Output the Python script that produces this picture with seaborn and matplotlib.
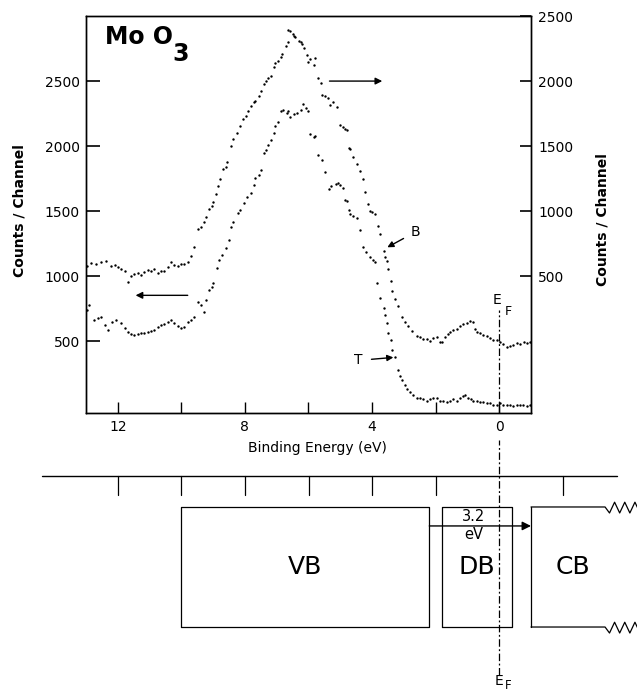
import matplotlib
matplotlib.use("Agg")
import matplotlib.pyplot as plt
import seaborn as sns

# spectrum B (upper dots, right axis)
b_energy = [12.98, 12.85, 12.69, 12.54, 12.38, 12.22, 12.10, 12.00, 11.91, 11.78,
            11.69, 11.59, 11.50, 11.37, 11.28, 11.18, 11.06, 10.96, 10.87, 10.74,
            10.65, 10.56, 10.43, 10.34, 10.24, 10.12, 10.02, 9.93, 9.80, 9.71,
            9.61, 9.49, 9.39, 9.30, 9.21, 9.14, 9.05, 8.99, 8.92, 8.86,
            8.77, 8.70, 8.61, 8.55, 8.45, 8.36, 8.26, 8.14, 8.07, 7.98,
            7.89, 7.82, 7.73, 7.67, 7.57, 7.51, 7.41, 7.35, 7.26, 7.19,
            7.10, 7.04, 6.97, 6.88, 6.82, 6.72, 6.66, 6.63, 6.57, 6.50,
            6.47, 6.41, 6.31, 6.25, 6.19, 6.13, 6.06, 6.00, 5.94, 5.84,
            5.78, 5.69, 5.62, 5.56, 5.47, 5.40, 5.31, 5.22, 5.09, 5.00,
            4.93, 4.84, 4.78, 4.74, 4.68, 4.59, 4.46, 4.37, 4.30, 4.21,
            4.12, 4.05, 3.99, 3.90, 3.80, 3.74, 3.64, 3.58, 3.52, 3.49,
            3.42, 3.36, 3.27, 3.17, 3.05, 2.95, 2.86, 2.73, 2.58, 2.48,
            2.39, 2.26, 2.17, 2.07, 1.95, 1.85, 1.79, 1.70, 1.60, 1.54,
            1.45, 1.32, 1.23, 1.13, 1.01, 0.91, 0.82, 0.75, 0.69, 0.60,
            0.50, 0.38, 0.28, 0.19, 0.06, -0.03, -0.13, -0.25, -0.35, -0.44,
            -0.57, -0.66, -0.79, -0.88, -0.97]
b_counts = [577, 600, 592, 608, 615, 577, 585, 569, 554, 539,
            454, 500, 515, 523, 508, 531, 546, 539, 554, 523,
            539, 539, 569, 608, 585, 577, 592, 592, 608, 654,
            723, 862, 877, 915, 954, 1015, 1039, 1069, 1131, 1192,
            1246, 1323, 1339, 1377, 1500, 1554, 1600, 1654, 1708, 1731,
            1769, 1808, 1838, 1846, 1885, 1923, 1977, 2000, 2023, 2038,
            2108, 2138, 2154, 2185, 2208, 2269, 2300, 2392, 2385, 2362,
            2346, 2338, 2308, 2300, 2285, 2254, 2200, 2146, 2169, 2123,
            2177, 2023, 1985, 1892, 1885, 1869, 1815, 1838, 1800, 1662,
            1646, 1631, 1623, 1485, 1477, 1415, 1362, 1308, 1246, 1146,
            1054, 1000, 992, 977, 885, 823, 692, 646, 615, 554,
            462, 385, 323, 269, 185, 146, 115, 77, 39, 31,
            15, 15, 0, 23, 31, -8, -8, 31, 54, 69,
            85, 92, 115, 131, 139, 154, 146, 92, 69, 62,
            46, 39, 23, 8, 8, -8, -23, -46, -38, -31,
            -15, -23, -8, -15, -8]

# spectrum T (lower dots, left axis)
t_energy = [12.98, 12.91, 12.76, 12.63, 12.54, 12.41, 12.32, 12.19, 12.06, 11.91,
            11.78, 11.69, 11.59, 11.50, 11.37, 11.28, 11.18, 11.06, 10.96, 10.87,
            10.74, 10.65, 10.56, 10.43, 10.34, 10.24, 10.12, 10.02, 9.93, 9.80,
            9.71, 9.61, 9.49, 9.39, 9.30, 9.21, 9.14, 9.05, 8.99, 8.89,
            8.83, 8.73, 8.61, 8.51, 8.45, 8.36, 8.23, 8.14, 8.04, 7.92,
            7.82, 7.73, 7.67, 7.57, 7.51, 7.41, 7.35, 7.26, 7.19, 7.10,
            7.04, 6.97, 6.88, 6.79, 6.69, 6.63, 6.57, 6.47, 6.35, 6.25,
            6.16, 6.09, 6.03, 5.94, 5.84, 5.78, 5.69, 5.59, 5.47, 5.37,
            5.28, 5.15, 5.06, 5.00, 4.90, 4.84, 4.78, 4.74, 4.68, 4.59,
            4.46, 4.37, 4.27, 4.18, 4.05, 3.96, 3.90, 3.83, 3.74, 3.64,
            3.58, 3.52, 3.49, 3.42, 3.36, 3.27, 3.17, 3.11, 3.05, 2.95,
            2.89, 2.80, 2.70, 2.58, 2.48, 2.39, 2.26, 2.17, 2.07, 1.95,
            1.85, 1.76, 1.63, 1.54, 1.45, 1.32, 1.23, 1.13, 1.07, 0.97,
            0.88, 0.82, 0.69, 0.60, 0.50, 0.38, 0.28, 0.19, 0.06, -0.03,
            -0.13, -0.25, -0.35, -0.44, -0.57, -0.66, -0.75, -0.88, -0.97]
t_counts = [739, 777, 662, 677, 685, 623, 585, 646, 662, 639,
            600, 569, 554, 546, 554, 562, 562, 569, 577, 585,
            608, 623, 631, 646, 662, 639, 615, 600, 608, 646,
            662, 685, 800, 777, 723, 815, 892, 915, 946, 1062,
            1123, 1162, 1215, 1277, 1377, 1415, 1485, 1508, 1562, 1608,
            1638, 1700, 1754, 1777, 1815, 1946, 1969, 2008, 2046, 2100,
            2154, 2185, 2269, 2277, 2254, 2269, 2223, 2246, 2254, 2277,
            2323, 2292, 2269, 2092, 2069, 2077, 1931, 1892, 1800, 1669,
            1692, 1708, 1715, 1700, 1677, 1585, 1577, 1508, 1477, 1462,
            1446, 1354, 1223, 1185, 1146, 1123, 1108, 946, 831, 754,
            700, 639, 562, 508, 431, 377, 277, 238, 200, 162,
            138, 108, 92, 69, 62, 54, 46, 54, 62, 62,
            46, 39, 31, 46, 54, 46, 62, 77, 85, 69,
            54, 46, 39, 31, 31, 23, 23, 15, 15, 23,
            8, 8, 8, 0, 15, 8, 8, 0, 8]

x_ticks = [12, 10, 8, 6, 4, 2, 0]
x_ticklabels = ["12", "", "8", "", "4", "", "0"]
y_ticks = [500, 1000, 1500, 2000, 2500]

# band diagram (eV)
vb_edges = [10.0, 2.2]
db_edges = [1.8, -0.4]
cb_edge = -1.0
gap_label = ["3.2", "eV"]
diag_ticks = [12, 10, 8, 6, 4, 2, -2]

sns.set_style("ticks", {"axes.edgecolor": "black", "xtick.color": "black",
                        "ytick.color": "black", "text.color": "black",
                        "axes.labelcolor": "black"})
plt.rcParams["font.family"] = ["DejaVu Sans"]

W, H = 637, 694
fig = plt.figure(figsize=(W / 100, H / 100), dpi=100)
ax = fig.add_axes([86 / W, (H - 413) / H, 445 / W, 397 / H])
ax_r = ax.twinx()

sns.scatterplot(x=t_energy, y=t_counts, ax=ax, s=3, color="black", linewidth=0)
sns.scatterplot(x=b_energy, y=b_counts, ax=ax_r, s=3, color="black", linewidth=0)

ax.set_xlim(13, -1)
ax.set_ylim(-50, 3000)
ax_r.set_ylim(-550, 2500)

for a in (ax, ax_r):
    for sp in a.spines.values():
        sp.set_linewidth(1.0)

ax.set_xticks(x_ticks)
ax.set_xticklabels(x_ticklabels)
ax.tick_params(axis="x", direction="in", length=8, width=1, labelsize=10, pad=5)
ax.set_yticks(y_ticks)
ax.tick_params(axis="y", direction="in", length=10, width=1.2, labelsize=10, pad=4.5)
ax_r.set_yticks(y_ticks)
ax_r.tick_params(axis="y", direction="in", length=8, width=1.2, labelsize=10, pad=5)

ax.set_xlabel("Binding Energy (eV)", fontsize=10)
ax.xaxis.set_label_coords(0.521, -0.07)
ax.set_ylabel("Counts / Channel", fontsize=10, fontweight="bold")
ax.yaxis.set_label_coords(-0.133, 0.511)
ax_r.set_ylabel("Counts / Channel", fontsize=10, fontweight="bold")
ax_r.yaxis.set_label_coords(1.146, 0.486)

ax.text(0.043, 0.947, "Mo O", transform=ax.transAxes, fontsize=17,
        fontweight="bold", ha="left", va="center")
ax.text(0.193, 0.905, "3", transform=ax.transAxes, fontsize=17,
        fontweight="bold", ha="left", va="center")

arrow = dict(arrowstyle="-|>", color="black", lw=1, mutation_scale=10,
             shrinkA=0, shrinkB=0)
ax.annotate("", xy=(11.44, 854), xytext=(9.80, 854), arrowprops=arrow)
ax_r.annotate("", xy=(3.68, 2000), xytext=(5.34, 2000), arrowprops=arrow)
ax_r.annotate("B", xy=(3.52, 723), xytext=(2.64, 840), fontsize=10,
              ha="center", va="center",
              arrowprops=dict(arrowstyle="-|>", color="black", lw=1,
                              mutation_scale=9, shrinkA=3, shrinkB=0))
ax.annotate("T", xy=(3.33, 377), xytext=(4.43, 354), fontsize=10,
            ha="center", va="center",
            arrowprops=dict(arrowstyle="-|>", color="black", lw=1,
                            mutation_scale=9, shrinkA=4, shrinkB=0))

dash = (0, (6, 2, 1.5, 2))
ax.axvline(0, ymin=0, ymax=0.259, color="black", lw=0.9, linestyle=dash)
ax.text(0.06, 815, "E", fontsize=10, ha="center", va="center")
ax.text(-0.28, 731, "F", fontsize=9, ha="center", va="center")

# band diagram below, sharing the energy scale of the spectrum
ax2 = fig.add_axes([0, 0, 1, 254 / H])
ax2.axis("off")
px_per_ev = 445 / 14
ax2.set_xlim(13 + 86 / px_per_ev, -1 - (W - 531) / px_per_ev)
ax2.set_ylim(-0.558, 1.558)

lw = 0.9
ax2.plot([14.4, -3.7], [1.258, 1.258], color="black", lw=1)
for e in diag_ticks:
    ax2.plot([e, e], [1.258, 1.1], color="black", lw=lw)

for left, right in (vb_edges, db_edges):
    ax2.plot([left, right, right, left, left], [0, 0, 1, 1, 0], color="black", lw=lw)

zig_x = [-3.33, -3.47, -3.63, -3.79, -3.95, -4.11, -4.27, -4.43]
for level in (1, 0):
    zig_y = [level, level - 0.05, level + 0.04, level - 0.05, level + 0.04,
             level - 0.05, level + 0.04, level - 0.05]
    ax2.plot([cb_edge] + zig_x, [level] + zig_y, color="black", lw=lw)
ax2.plot([cb_edge, cb_edge], [0, 1], color="black", lw=lw)

ax2.annotate("", xy=(cb_edge, 0.842), xytext=(vb_edges[1], 0.842),
             arrowprops=dict(arrowstyle="-|>", color="black", lw=1,
                             mutation_scale=13, shrinkA=0, shrinkB=0))
ax2.text(0.82, 0.917, gap_label[0], fontsize=10.5, ha="center", va="center")
ax2.text(0.79, 0.767, gap_label[1], fontsize=10.5, ha="center", va="center")

ax2.text(sum(vb_edges) / 2, 0.5, "VB", fontsize=18, ha="center", va="center")
ax2.text(sum(db_edges) / 2, 0.5, "DB", fontsize=18, ha="center", va="center")
ax2.text(-2.33, 0.5, "CB", fontsize=18, ha="center", va="center")

ax2.plot([0, 0], [-0.4, 1.558], color="black", lw=0.9, linestyle=dash)
ax2.text(0, -0.45, "E", fontsize=10, ha="center", va="center")
ax2.text(-0.28, -0.49, "F", fontsize=8.5, ha="center", va="center")

fig.savefig("out.png", dpi=100)
